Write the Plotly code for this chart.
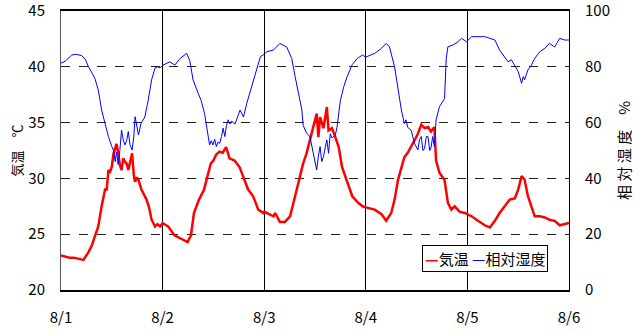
import plotly.graph_objects as go

# Hours elapsed since 8/1 00:00 and air temperature (°C)
temp_hours = [
    0, 1, 2, 3, 4, 5.3, 6.5, 7.3, 8, 8.8, 9.6, 10, 10.4, 10.8, 11.2, 11.6, 12, 12.4,
    12.8, 13.1, 13.5, 13.9, 14.3, 14.7, 15.1, 15.5, 15.9, 16.3, 16.8, 17.2, 17.5,
    17.9, 18.3, 19, 19.6, 20.2, 20.8, 21.4, 21.8, 22.2, 22.8, 23.4,
    24, 25.3, 26.8, 28.4, 29.9, 30.7, 31.4, 32.6, 33.8, 34.6, 35.4, 36, 36.6, 37.4,
    38.2, 39.0, 39.8, 41, 42.2, 43, 44.2, 45.4, 46.6, 47.8,
    48, 48.6, 50.2, 50.6, 51.7, 52.9, 54.1, 54.9, 55.7, 56.5, 57.2, 58, 58.8, 59.6,
    60.4, 60.8, 61.2, 62, 62.8, 63.2, 64, 64.8, 65.6, 66.4, 67.6, 68.8, 70, 71.2,
    72, 74.1, 75.7, 76.8, 78, 78.8, 79.6, 80.4, 81.1, 81.9, 82.7, 83.5, 84.3, 85.1,
    85.9, 86.7, 87.4, 88.2, 88.6, 89.4, 90.6, 91.4, 92.2, 93, 94.2, 95.4,
    96.4, 97, 98.5, 100.1, 101.3, 102.5, 103.6, 104.8, 106, 107.2, 108, 108.8,
    109.5, 110.3, 111.1, 111.9, 113.1, 114.3, 115.4, 116.6, 117.8, 119, 120,
]
temp_values = [
    23.1, 23.0, 22.9, 22.9, 22.8, 22.7, 23.4, 24.0, 24.8, 25.7, 27.5, 28.3, 29.0, 29.0,
    30.75, 30.6, 31.05, 32.2, 32.8, 33.1, 32.3, 31.2, 30.75, 31.8, 31.5, 31.35, 30.75,
    31.5, 32.25, 30.3, 29.7, 30.1, 29.85, 29.0, 28.6, 28.1, 27.4, 26.3, 26.0, 25.7,
    25.9, 25.7,
    26.0, 25.7, 24.9, 24.6, 24.3, 24.9, 26.9, 28.1, 29.0, 30.2, 31.35, 31.6, 32.1,
    32.4, 32.3, 32.8, 31.8, 31.6, 31.0, 30.2, 29.0, 28.4, 27.2, 26.9,
    27.0, 26.9, 26.6, 26.9, 26.1, 26.1, 26.6, 27.8, 29.0, 30.2, 31.35, 32.25, 33.4,
    34.6, 35.8, 33.7, 35.5, 34.5, 36.4, 34.3, 34.5, 33.7, 32.8, 31.0, 29.6, 28.4,
    27.9, 27.5,
    27.4, 27.2, 26.8, 26.2, 26.9, 28.1, 29.85, 31.0, 31.9, 32.3, 32.8, 33.4, 34.0,
    34.8, 34.5, 34.6, 34.2, 34.6, 31.6, 30.5, 29.85, 27.8, 27.2, 27.5, 27.0, 26.9,
    26.7, 26.6, 26.2, 25.8, 25.6, 26.2, 26.9, 27.5, 28.1, 28.2, 29.0, 30.2, 29.9,
    28.4, 27.5, 26.6, 26.6, 26.5, 26.3, 26.2, 25.8, 25.9, 26.0,
]

# Hours elapsed since 8/1 00:00 and relative humidity (%)
rh_hours = [
    0, 1, 2.5, 3.5, 4.9, 5.8, 6.5, 7.3, 8, 8.8, 9.6, 10.4, 11.2, 12, 12.4, 12.8, 13.1,
    13.5, 13.9, 14.3, 14.7, 15.1, 15.5, 15.9, 16.3, 16.8, 17.2, 17.5, 17.9, 18.3,
    18.9, 19.8, 20.6, 21.4, 22.2, 22.8, 23.4,
    24, 25.7, 26.9, 28.1, 29.7, 30.4, 31.2, 32.4, 33.1, 33.9, 34.7, 35.1, 35.5, 35.9,
    36.3, 36.7, 37.1, 37.5, 37.9, 38.3, 38.7, 39.1, 39.5, 39.9, 40.3, 41.1, 42.3,
    43.1, 43.9, 45.1, 46.3, 47.1,
    48, 48.6, 50.2, 51.7, 53.3, 54.5, 55.3, 56.1, 56.9, 57.2, 58, 58.8, 59.6, 60,
    60.4, 60.8, 61.2, 61.6, 62, 62.4, 62.8, 63.2, 63.6, 64, 64.4, 64.8, 65.2, 66,
    66.8, 67.6, 68.8, 70, 71.2,
    72, 74.1, 75.7, 76.8, 77.6, 78.8, 79.6, 80.4, 81.1, 81.5, 81.9, 82.7, 83.5, 84.3,
    84.7, 85.1, 85.5, 85.9, 86.3, 86.7, 87.1, 87.4, 87.8, 88.2, 88.6, 89.4, 90.6,
    91, 91.4, 92.6, 93.8, 94.6, 95.8,
    97, 98.5, 100.1, 101.3, 102.5, 103.6, 104.8, 105.6, 106.4, 107.2, 108, 108.8,
    109.2, 109.5, 110.3, 111.1, 111.9, 113.1, 114.3, 115.4, 116.6, 117.8, 119, 120,
]
rh_values = [
    81.3, 82, 84.2, 84.5, 84, 82.5, 80, 77.5, 75.9, 71.7, 64.5, 59.7, 55, 51.4, 50,
    46, 49.5, 45, 50, 57.3, 53.8, 52, 53.5, 56.8, 52, 50.2, 55, 62.1, 58, 55.6, 59.7,
    62, 68, 75.3, 79.5, 80, 79.6,
    80.5, 81.8, 80.6, 83, 84.8, 82.3, 75.3, 70.5, 68, 63.3, 55, 52, 53.5, 52, 54,
    51.4, 53, 52.6, 55, 58, 55, 59, 61, 59.5, 60.5, 59.5, 64.5, 62, 67, 72.9, 78.9,
    83.6,
    84.5, 85.4, 86, 88.4, 87.1, 83, 76.5, 70.5, 64.5, 59, 56.2, 55, 49, 46, 43, 48,
    51.4, 46, 47.8, 51, 53.8, 49, 56, 54.5, 55, 55.5, 58.3, 68, 72.9, 76.5, 80.8, 83,
    84.2,
    83.5, 84.8, 86.6, 88.4, 87.1, 80, 71.7, 64.5, 59.7, 61, 58.3, 57.3, 52.6, 50.2,
    54, 55, 50, 50.8, 55, 55, 50, 51, 55, 51.4, 61, 65.7, 68.6, 83, 87.2, 87.8, 89,
    90.2, 89,
    90.8, 90.8, 90.8, 90.2, 89.6, 86, 83.6, 81.8, 82.5, 80.6, 78.3, 74.1, 76.5, 75.3,
    78.9, 80.6, 83, 85.4, 86.6, 88.4, 87.1, 90.2, 89.6, 89.6,
]

day_labels = ["8/1", "8/2", "8/3", "8/4", "8/5", "8/6"]
day_ticks = [24 * i for i in range(len(day_labels))]

FONT = "Liberation Sans Narrow, Arial Narrow, Noto Sans CJK JP, sans-serif"

fig = go.Figure()
fig.add_trace(go.Scatter(
    x=temp_hours, y=temp_values, name="気温", mode="lines",
    line=dict(color="#ff0000", width=2.5), yaxis="y",
))
fig.add_trace(go.Scatter(
    x=rh_hours, y=rh_values, name="相対湿度", mode="lines",
    line=dict(color="#0000ff", width=1), yaxis="y2",
))

fig.update_layout(
    width=640, height=334,
    margin=dict(l=61, r=71, t=11, b=44),
    paper_bgcolor="white", plot_bgcolor="white",
    font=dict(family=FONT, size=15, color="black"),
    showlegend=False,
    xaxis=dict(
        range=[day_ticks[0], day_ticks[-1]],
        tickvals=day_ticks, ticktext=day_labels,
        showgrid=True, gridcolor="black", gridwidth=1,
        showline=True, linecolor="black", linewidth=1.5, mirror=True,
        ticks="", ticklabelstandoff=13, zeroline=False, automargin=False,
        ticklabeloverflow="allow",
    ),
    yaxis=dict(
        range=[20, 45], dtick=5,
        title=dict(text="気温　℃", font=dict(size=13), standoff=2),
        showgrid=True, gridcolor="#222222", gridwidth=1, griddash="dash",
        showline=True, linecolor="#555555", linewidth=1, mirror=True,
        ticks="", ticklabelstandoff=12, zeroline=False, automargin=False,
        ticklabeloverflow="allow",
    ),
    yaxis2=dict(
        range=[0, 100], dtick=20, overlaying="y", side="right",
        title=dict(text="相 対 湿 度　%", font=dict(size=15), standoff=10),
        showgrid=False, showline=True, linecolor="black", linewidth=1,
        ticks="", ticklabelstandoff=12, zeroline=False, automargin=False,
        ticklabeloverflow="allow",
    ),
)

# Legend box with short coloured line samples
fig.add_annotation(
    xref="paper", yref="paper", x=0.9587, y=0.0645,
    xanchor="right", yanchor="bottom", showarrow=False,
    text="<span style='color:#ff0000'><b>—</b></span>気温 "
         "<span style='color:#0000ff'>—</span>相対湿度",
    font=dict(family=FONT, size=15, color="black"),
    bgcolor="white", bordercolor="black", borderwidth=1, borderpad=2,
)

fig.write_html("out.html")
